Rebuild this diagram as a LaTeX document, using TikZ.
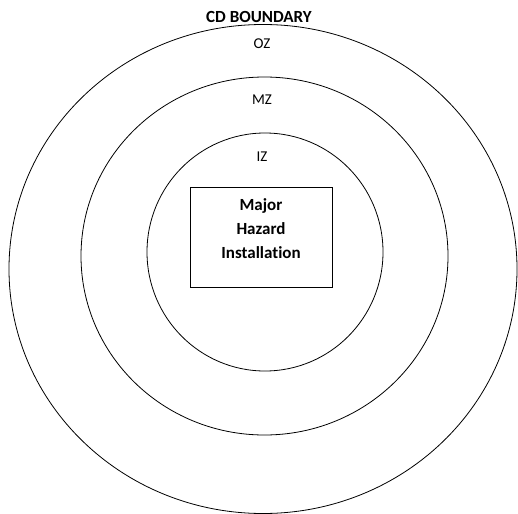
\documentclass[tikz,border=0pt]{standalone}
\usepackage{fontspec}
\setmainfont[Ligatures=NoCommon]{Carlito}
\usetikzlibrary{positioning,shapes.geometric}

\begin{document}
\begin{tikzpicture}[x=1pt, y=-1pt, line width=0.8pt,
  zone/.style={draw, ellipse, inner sep=0pt},
  zonelbl/.style={font=\fontsize{15}{17}\selectfont},
  every node/.style={align=center}]
\useasboundingbox (0,0) rectangle (518,513);
% zones
\node[zone, minimum width=508pt, minimum height=489pt] (oz) at (263,269) {};
\node[zone, minimum width=367pt, minimum height=358pt] (mz) at (264.5,256) {};
\node[zone, minimum width=236pt, minimum height=238pt] (iz) at (265,252) {};
% installation
\node[draw, minimum width=142pt, minimum height=100pt] (mhi) at (261,237) {};
\node[font=\bfseries\fontsize{17}{24}\selectfont] (mhitext) at (261,229) {Major\\Hazard\\Installation};
% labels
\node[font=\bfseries\fontsize{17}{19}\selectfont] (cdb) at (259,17) {CD BOUNDARY};
\node[zonelbl] (ozlbl) at (262,44) {OZ};
\node[zonelbl] (mzlbl) at (262,100) {MZ};
\node[zonelbl] (izlbl) at (262,157) {IZ};
\end{tikzpicture}
\end{document}
